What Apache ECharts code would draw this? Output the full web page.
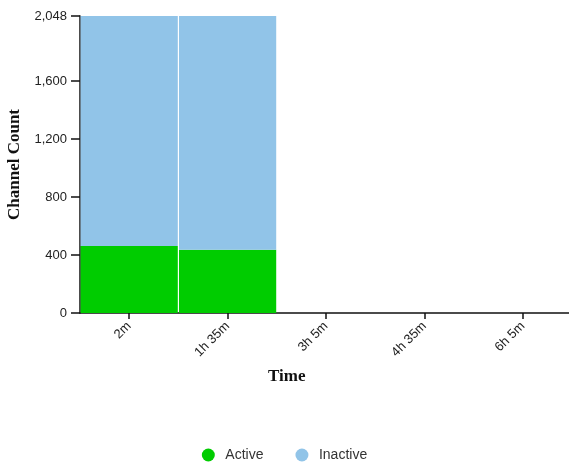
<!DOCTYPE html>
<html>
<head>
<meta charset="utf-8">
<script src="https://cdn.jsdelivr.net/npm/echarts@6/dist/echarts.min.js"></script>
<style>
  html, body { margin: 0; padding: 0; background: #fff; }
  #chart { width: 569px; height: 464px; }
</style>
</head>
<body>
<div id="chart"></div>
<script>
// Time buckets along the x axis
const timeLabels = ['2m', '1h 35m', '3h 5m', '4h 35m', '6h 5m'];
// Channel counts per bucket
const activeCounts = [462, 436, null, null, null];
const inactiveCounts = [1586, 1612, null, null, null];
// Y axis range and tick values
const yMax = 2048;
const yTicks = [0, 400, 800, 1200, 1600, 2048];

const chart = echarts.init(document.getElementById('chart'), null, { renderer: 'canvas' });

const labelFont = 'Liberation Sans, Arial, sans-serif';
const titleFont = 'Liberation Serif, Times New Roman, serif';
const axisColor = '#111';

chart.setOption({
  animation: false,
  grid: { left: 80, top: 16, width: 492, bottom: 151, containLabel: false, outerBoundsMode: 'none' },
  legend: {
    top: 443,
    left: 'center',
    icon: 'circle',
    itemWidth: 24,
    itemHeight: 13,
    itemGap: 32,
    textStyle: { color: '#333', fontFamily: labelFont, fontSize: 14 },
    data: ['Active', 'Inactive']
  },
  graphic: [
    {
      type: 'text',
      left: 268,
      top: 368,
      style: { text: 'Time', fill: '#111', font: 'bold 17px ' + titleFont }
    }
  ],
  xAxis: {
    type: 'category',
    data: timeLabels,
    axisLine: { lineStyle: { color: axisColor, width: 1.5 } },
    axisTick: { show: true, alignWithLabel: true, length: 6, lineStyle: { color: axisColor, width: 1.5 } },
    axisLabel: { rotate: 45, margin: 11, color: '#222', fontFamily: labelFont, fontSize: 13 },
    splitLine: { show: false }
  },
  yAxis: {
    type: 'value',
    min: 0,
    max: yMax,
    name: 'Channel Count',
    nameLocation: 'middle',
    nameGap: 54,
    nameRotate: 90,
    nameTextStyle: { color: '#111', fontFamily: titleFont, fontSize: 17, fontWeight: 'bold' },
    axisLine: { show: true, lineStyle: { color: axisColor, width: 1.5 } },
    axisTick: { show: true, length: 9, customValues: yTicks, lineStyle: { color: axisColor, width: 1.5 } },
    axisLabel: {
      margin: 13,
      customValues: yTicks,
      color: '#222',
      fontFamily: labelFont,
      fontSize: 13,
      formatter: v => v.toLocaleString('en-US')
    },
    splitLine: { show: false }
  },
  series: [
    {
      name: 'Active',
      type: 'bar',
      stack: 'channels',
      data: activeCounts,
      barCategoryGap: '1.2%',
      itemStyle: { color: '#00cc00' }
    },
    {
      name: 'Inactive',
      type: 'bar',
      stack: 'channels',
      data: inactiveCounts,
      barCategoryGap: '1.2%',
      itemStyle: { color: '#91c4e8' }
    }
  ]
});
</script>
</body>
</html>
